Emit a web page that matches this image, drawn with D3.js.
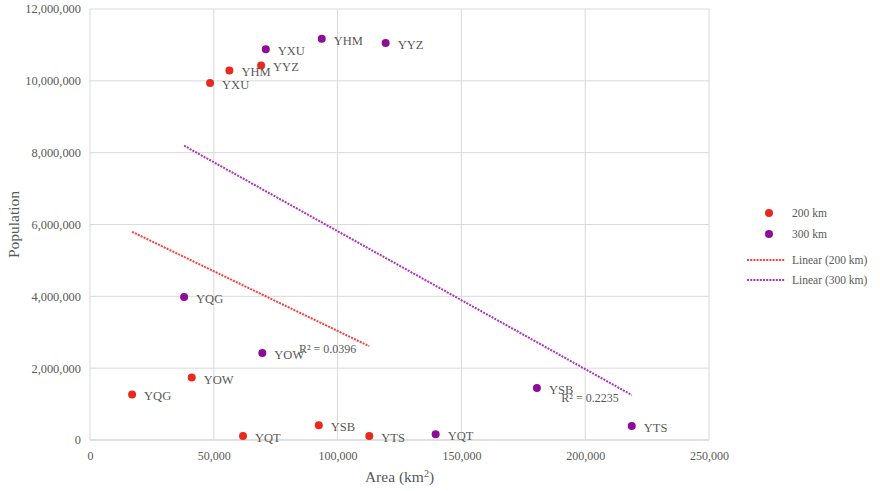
<!DOCTYPE html>
<html>
<head>
<meta charset="utf-8">
<script src="https://cdn.jsdelivr.net/npm/d3@7"></script>
<style>
  body { margin: 0; background: #fff; }
  svg text { font-family: 'Liberation Serif', 'Times New Roman', serif; fill: #595959; }
</style>
</head>
<body>
<div id="chart"></div>
<script>
// DATA ------------------------
const airports200 = ['YXU', 'YHM', 'YYZ', 'YOW', 'YQG', 'YQT', 'YSB', 'YTS'];
const area200 = [48500, 56300, 69100, 41100, 17000, 61800, 92400, 112800];
const pop200 = [9940000, 10290000, 10430000, 1740000, 1270000, 110000, 410000, 110000];

const airports300 = ['YXU', 'YHM', 'YYZ', 'YQG', 'YOW', 'YQT', 'YSB', 'YTS'];
const area300 = [71000, 93600, 119400, 38000, 69600, 139600, 180500, 218800];
const pop300 = [10880000, 11170000, 11050000, 3980000, 2420000, 160000, 1450000, 390000];

const seriesNames = ['200 km', '300 km'];
const trendNames = ['Linear (200 km)', 'Linear (300 km)'];
const r2Labels = ['R² = 0.0396', 'R² = 0.2235'];
const xTicks = [0, 50000, 100000, 150000, 200000, 250000];
const yTicks = [0, 2000000, 4000000, 6000000, 8000000, 10000000, 12000000];

const colors = ['#e8291c', '#8e0c9a'];
const trendColors = ['#ff3b3b', '#b030c0'];

const w = 880;
const h = 491;

const svg = d3.select('#chart').append('svg').attr('width', w).attr('height', h);

// SCALES ----------------------
const xScale = d3.scaleLinear().domain([0, 250000]).range([90, 709]);
const yScale = d3.scaleLinear().domain([0, 12000000]).range([440, 9]);
const fmt = d3.format(',');

// GRID ------------------------
svg.append('g').selectAll('line').data(yTicks).enter().append('line')
  .attr('x1', xScale(0)).attr('x2', xScale(250000))
  .attr('y1', (d) => yScale(d)).attr('y2', (d) => yScale(d))
  .attr('stroke', (d) => (d === 0 ? '#bfbfbf' : '#d9d9d9')).attr('stroke-width', 1);
svg.append('g').selectAll('line').data(xTicks).enter().append('line')
  .attr('x1', (d) => xScale(d)).attr('x2', (d) => xScale(d))
  .attr('y1', yScale(0)).attr('y2', yScale(12000000))
  .attr('stroke', '#d9d9d9').attr('stroke-width', 1);

// AXES ------------------------
const gX = svg.append('g').attr('transform', `translate(0, ${yScale(0) + 8})`)
  .call(d3.axisBottom(xScale).tickValues(xTicks).tickFormat(fmt).tickSize(0));
gX.select('.domain').remove();
gX.selectAll('text').style('font-size', '12px').attr('fill', '#595959');

const gY = svg.append('g').attr('transform', `translate(${xScale(0) - 6}, 0)`)
  .call(d3.axisLeft(yScale).tickValues(yTicks).tickFormat(fmt).tickSize(0));
gY.select('.domain').remove();
gY.selectAll('text').style('font-size', '12.4px').attr('fill', '#595959');

svg.append('text')
  .attr('x', (xScale(0) + xScale(250000)) / 2)
  .attr('y', 482)
  .style('text-anchor', 'middle').style('font-size', '15.5px')
  .html('Area (km<tspan baseline-shift="super" font-size="10px">2</tspan>)');

svg.append('text')
  .attr('transform', 'rotate(-90)')
  .attr('x', -(yScale(0) + yScale(12000000)) / 2)
  .attr('y', 19)
  .style('text-anchor', 'middle').style('font-size', '15.5px')
  .text('Population');

// TRENDLINES ------------------
const series = [
  { names: airports200, xs: area200, ys: pop200 },
  { names: airports300, xs: area300, ys: pop300 },
];

series.forEach((s, i) => {
  const mx = d3.mean(s.xs);
  const my = d3.mean(s.ys);
  const sxy = d3.sum(s.xs, (x, j) => (x - mx) * (s.ys[j] - my));
  const sxx = d3.sum(s.xs, (x) => (x - mx) * (x - mx));
  const slope = sxy / sxx;
  const x0 = d3.min(s.xs);
  const x1 = d3.max(s.xs);
  const pts = [[x0, my + slope * (x0 - mx)], [x1, my + slope * (x1 - mx)]];
  svg.append('path')
    .attr('d', d3.line().x((d) => xScale(d[0])).y((d) => yScale(d[1]))(pts))
    .attr('fill', 'none').attr('stroke', trendColors[i])
    .attr('stroke-width', 2).attr('stroke-dasharray', '2,1.2');
  svg.append('text')
    .attr('x', xScale(x1) - 13).attr('y', yScale(pts[1][1]) + 7)
    .style('text-anchor', 'end').style('font-size', '12px')
    .text(r2Labels[i]);
});

// POINTS ----------------------
series.forEach((s, i) => {
  const g = svg.append('g');
  g.selectAll('circle').data(s.xs).enter().append('circle')
    .attr('cx', (d) => xScale(d)).attr('cy', (d, j) => yScale(s.ys[j]))
    .attr('r', 4).attr('fill', colors[i]);
  g.selectAll('text').data(s.names).enter().append('text')
    .attr('x', (d, j) => xScale(s.xs[j]) + 12).attr('y', (d, j) => yScale(s.ys[j]) + 6)
    .style('font-size', '12.5px')
    .text((d) => d);
});

// LEGEND ----------------------
const legend = svg.append('g');
seriesNames.forEach((name, i) => {
  const y = 213 + i * 21;
  legend.append('circle').attr('cx', 769).attr('cy', y).attr('r', 4).attr('fill', colors[i]);
  legend.append('text').attr('x', 792).attr('y', y + 4).style('font-size', '11.5px').text(name);
});
trendNames.forEach((name, i) => {
  const y = 260 + i * 20;
  legend.append('line').attr('x1', 747).attr('x2', 785).attr('y1', y).attr('y2', y)
    .attr('stroke', trendColors[i]).attr('stroke-width', 2).attr('stroke-dasharray', '2,1.2');
  legend.append('text').attr('x', 792).attr('y', y + 4).style('font-size', '11.5px').text(name);
});
</script>
</body>
</html>
